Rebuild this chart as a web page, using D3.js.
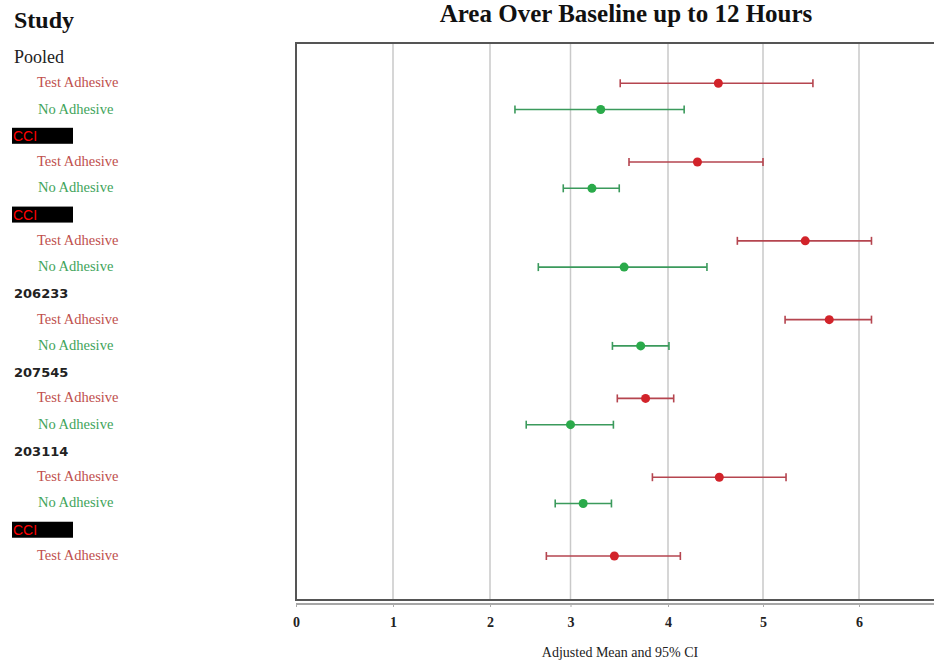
<!DOCTYPE html>
<html>
<head>
<meta charset="utf-8">
<script src="https://cdn.jsdelivr.net/npm/d3@7"></script>
<style>
  body { margin: 0; background: #fff; }
</style>
</head>
<body>
<div id="chart"></div>
<script>
'use strict';

const width = 934,
    height = 663;

// rows, top to bottom (headers and arms)
const rowLabels = ["Pooled", "Test Adhesive", "No Adhesive",
    "CCI", "Test Adhesive", "No Adhesive",
    "CCI", "Test Adhesive", "No Adhesive",
    "206233", "Test Adhesive", "No Adhesive",
    "207545", "Test Adhesive", "No Adhesive",
    "203114", "Test Adhesive", "No Adhesive",
    "CCI", "Test Adhesive"];
const rowKinds = ["pooled", "test", "none",
    "hidden", "test", "none",
    "hidden", "test", "none",
    "study", "test", "none",
    "study", "test", "none",
    "study", "test", "none",
    "hidden", "test"];

// estimates per arm row (index into rowLabels)
const armRows = [1, 2, 4, 5, 7, 8, 10, 11, 13, 14, 16, 17, 19];
const means   = [4.53, 3.31, 4.31, 3.22, 5.44, 3.55, 5.69, 3.72, 3.77, 3.00, 4.54, 3.13, 3.45];
const lower   = [3.51, 2.31, 3.60, 2.91, 4.73, 2.60, 5.23, 3.43, 3.48, 2.45, 3.84, 2.81, 2.70];
const upper   = [5.52, 4.17, 5.00, 3.50, 6.13, 4.41, 6.13, 4.01, 4.06, 3.44, 5.24, 3.42, 4.13];

const xTicks = [0, 1, 2, 3, 4, 5, 6];

const serif = "'Liberation Serif', 'DejaVu Serif', serif";

const colors = {
    test: {text: "#c0504d", line: "#b5454f", dot: "#d2232a"},
    none: {text: "#3fa45b", line: "#3b9a5c", dot: "#2aaa4a"}
};

const svg = d3.select("#chart").append("svg")
    .attr("width", width)
    .attr("height", height)
    .style("font-family", serif);

// the printed axis is not evenly spaced, so map each unit by hand
const xScale = d3.scaleLinear()
    .domain([0, 1, 2, 3, 4, 5, 6, 7])
    .range([296, 393, 490, 570.5, 668, 763, 859, 955]);

const yScale = d3.scalePoint()
    .domain(d3.range(rowLabels.length))
    .range([57, 556]);

const plotTop = 43, plotBottom = 600;

// gridlines
svg.append("g")
    .selectAll("line")
    .data(xTicks.slice(1))
    .join("line")
    .attr("x1", d => xScale(d))
    .attr("x2", d => xScale(d))
    .attr("y1", plotTop)
    .attr("y2", plotBottom)
    .attr("stroke", "#c9c9c9")
    .attr("stroke-width", 1.5);

// frame
svg.append("path")
    .attr("d", `M${width + 2},${plotTop}H${xScale(0)}V${plotBottom}H${width + 2}`)
    .attr("fill", "none")
    .attr("stroke", "#555")
    .attr("stroke-width", 2);

// x axis
const xAxis = d3.axisBottom(xScale)
    .tickValues(xTicks)
    .tickSize(3)
    .tickFormat(d3.format("d"));

const gx = svg.append("g")
    .attr("transform", `translate(0,${plotBottom + 4})`)
    .call(xAxis);
gx.select(".domain")
    .attr("d", `M${xScale(0)},0H${width + 2}`)
    .attr("stroke", "#888")
    .attr("stroke-width", 1.5);
gx.selectAll(".tick line").attr("stroke", "#aaa");
gx.selectAll(".tick text")
    .attr("y", 13)
    .style("font-family", serif)
    .style("font-size", "14px")
    .style("font-weight", "bold")
    .attr("fill", "#222");

svg.append("text")
    .attr("x", 620)
    .attr("y", 657)
    .attr("text-anchor", "middle")
    .style("font-size", "14px")
    .attr("fill", "#222")
    .text("Adjusted Mean and 95% CI");

// titles
svg.append("text")
    .attr("x", 626)
    .attr("y", 22)
    .attr("text-anchor", "middle")
    .style("font-size", "25px")
    .style("font-weight", "bold")
    .attr("fill", "#111")
    .text("Area Over Baseline up to 12 Hours");

svg.append("text")
    .attr("x", 14)
    .attr("y", 28)
    .style("font-size", "24px")
    .style("font-weight", "bold")
    .attr("fill", "#111")
    .text("Study");

// row labels
const rows = svg.append("g")
    .selectAll("g")
    .data(rowLabels.map((d, i) => ({label: d, kind: rowKinds[i], i: i})))
    .join("g")
    .attr("transform", d => `translate(0,${yScale(d.i)})`);

rows.filter(d => d.kind === "pooled")
    .append("text")
    .attr("x", 14)
    .attr("y", 6)
    .style("font-size", "18px")
    .attr("fill", "#222")
    .text(d => d.label);

rows.filter(d => d.kind === "study")
    .append("text")
    .attr("x", 14)
    .attr("y", 5)
    .style("font-family", "'DejaVu Sans', sans-serif")
    .style("font-size", "13px")
    .style("font-weight", "bold")
    .attr("fill", "#222")
    .text(d => d.label);

const hidden = rows.filter(d => d.kind === "hidden");
hidden.append("rect")
    .attr("x", 12)
    .attr("y", -8)
    .attr("width", 61)
    .attr("height", 16)
    .attr("fill", "#000");
hidden.append("text")
    .attr("x", 13)
    .attr("y", 5)
    .style("font-family", "'Liberation Sans', Arial, sans-serif")
    .style("font-size", "14px")
    .attr("fill", "#ff0000")
    .text(d => d.label);

rows.filter(d => d.kind === "test" || d.kind === "none")
    .append("text")
    .attr("x", d => d.kind === "test" ? 37 : 38)
    .attr("y", 4)
    .style("font-size", "14.5px")
    .attr("fill", d => colors[d.kind].text)
    .text(d => d.label);

// error bars
const bars = svg.append("g")
    .selectAll("g")
    .data(armRows.map((r, i) => ({
        row: r, kind: rowKinds[r], mean: means[i], lo: lower[i], hi: upper[i]
    })))
    .join("g")
    .attr("transform", d => `translate(0,${yScale(d.row)})`);

bars.append("line")
    .attr("x1", d => xScale(d.lo))
    .attr("x2", d => xScale(d.hi))
    .attr("stroke", d => colors[d.kind].line)
    .attr("stroke-width", 1.6);

bars.selectAll(".cap")
    .data(d => [d.lo, d.hi].map(v => ({v: v, kind: d.kind})))
    .join("line")
    .attr("class", "cap")
    .attr("x1", d => xScale(d.v))
    .attr("x2", d => xScale(d.v))
    .attr("y1", -4)
    .attr("y2", 4)
    .attr("stroke", d => colors[d.kind].line)
    .attr("stroke-width", 1.6);

bars.append("circle")
    .attr("cx", d => xScale(d.mean))
    .attr("r", 4.5)
    .attr("fill", d => colors[d.kind].dot);
</script>
</body>
</html>
